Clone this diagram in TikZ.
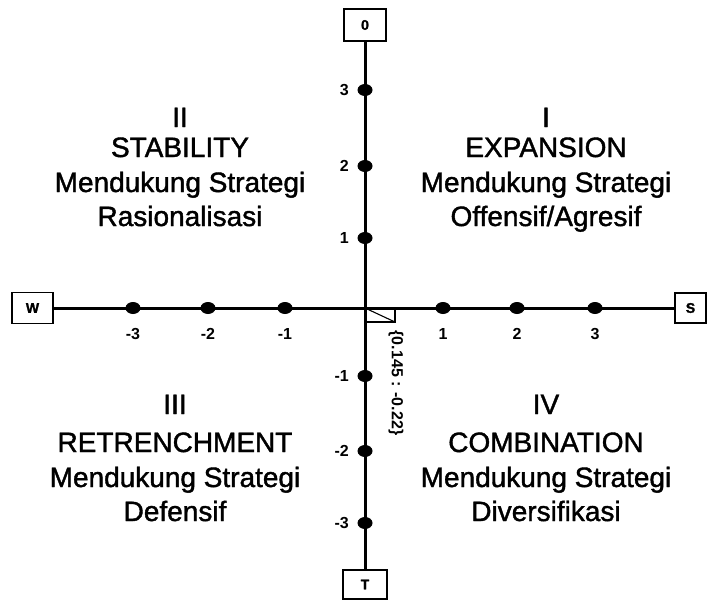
\documentclass[tikz,border=0pt]{standalone}
\usepackage{fontspec}
\setmainfont{Liberation Sans}
\newfontfamily\quadfont[FakeBold=1.4]{Liberation Sans}
\newfontfamily\boxfont[FakeBold=1.5]{Liberation Sans Bold}
\usetikzlibrary{shapes.geometric}
\begin{document}
\begin{tikzpicture}[x=1pt,y=-1pt,
 axisbox/.style={draw, line width=1.4pt, font=\fontsize{14}{14}\selectfont\boxfont, inner sep=0pt},
 dot/.style={ellipse, fill=black, inner sep=0pt, minimum width=15pt, minimum height=12pt},
 ticklab/.style={font=\fontsize{16}{16}\selectfont\bfseries, inner sep=0pt},
 quad/.style={font=\fontsize{28}{28}\selectfont\quadfont, anchor=base, inner sep=0pt},
 axisline/.style={line width=3pt},
 thinline/.style={line width=1.1pt}]
\useasboundingbox (0,0) rectangle (707,602);
% axis end boxes
\node[axisbox, minimum width=42pt, minimum height=32pt] (O) at (365,25) {0};
\node[axisbox, minimum width=44pt, minimum height=29pt] (T) at (365,584.5) {T};
\node[axisbox, minimum width=41pt, minimum height=31pt] (W) at (32.5,308) {W};
\node[axisbox, minimum width=31pt, minimum height=30pt] (S) at (690.5,308) {S};
% axes
\draw[axisline] (W.east) -- (S.west);
\draw[axisline] (O.south) -- (T.north);
% horizontal dots and labels
\foreach \n/\x/\t in {hm3/133/-3, hm2/208/-2, hm1/285/-1, hp1/443/1, hp2/517/2, hp3/595/3}{
  \node[dot] (\n) at (\x,308) {};
  \node[ticklab] (\n l) at (\x,334) {\t};
}
% vertical dots and labels
\foreach \n/\y/\t in {vp3/90/3, vp2/166/2, vp1/238/1, vm1/376/-1, vm2/451/-2, vm3/523/-3}{
  \node[dot] (\n) at (365,\y) {};
  \node[ticklab, anchor=east] (\n l) at (349,\y) {\t};
}
% position marker
\draw[thinline] (365,308) rectangle (395,322);
\draw[thinline] (365,308) -- (395,322);
\node[ticklab, rotate=-90] (pos) at (396,383) {\{0.145 : -0.22\}};
% quadrant I
\node[quad] (q1a) at (546,127) {I};
\node[quad] (q1b) at (546,157) {EXPANSION};
\node[quad] (q1c) at (546,192) {Mendukung Strategi};
\node[quad] (q1d) at (546,226) {Offensif/Agresif};
% quadrant II
\node[quad] (q2a) at (180,127) {II};
\node[quad] (q2b) at (180,157) {STABILITY};
\node[quad] (q2c) at (180,192) {Mendukung Strategi};
\node[quad] (q2d) at (180,226) {Rasionalisasi};
% quadrant III
\node[quad] (q3a) at (175,414) {III};
\node[quad] (q3b) at (175,452) {RETRENCHMENT};
\node[quad] (q3c) at (175,487) {Mendukung Strategi};
\node[quad] (q3d) at (175,521) {Defensif};
% quadrant IV
\node[quad] (q4a) at (546,414) {IV};
\node[quad] (q4b) at (546,452) {COMBINATION};
\node[quad] (q4c) at (546,487) {Mendukung Strategi};
\node[quad] (q4d) at (546,521) {Diversifikasi};
\end{tikzpicture}
\end{document}
